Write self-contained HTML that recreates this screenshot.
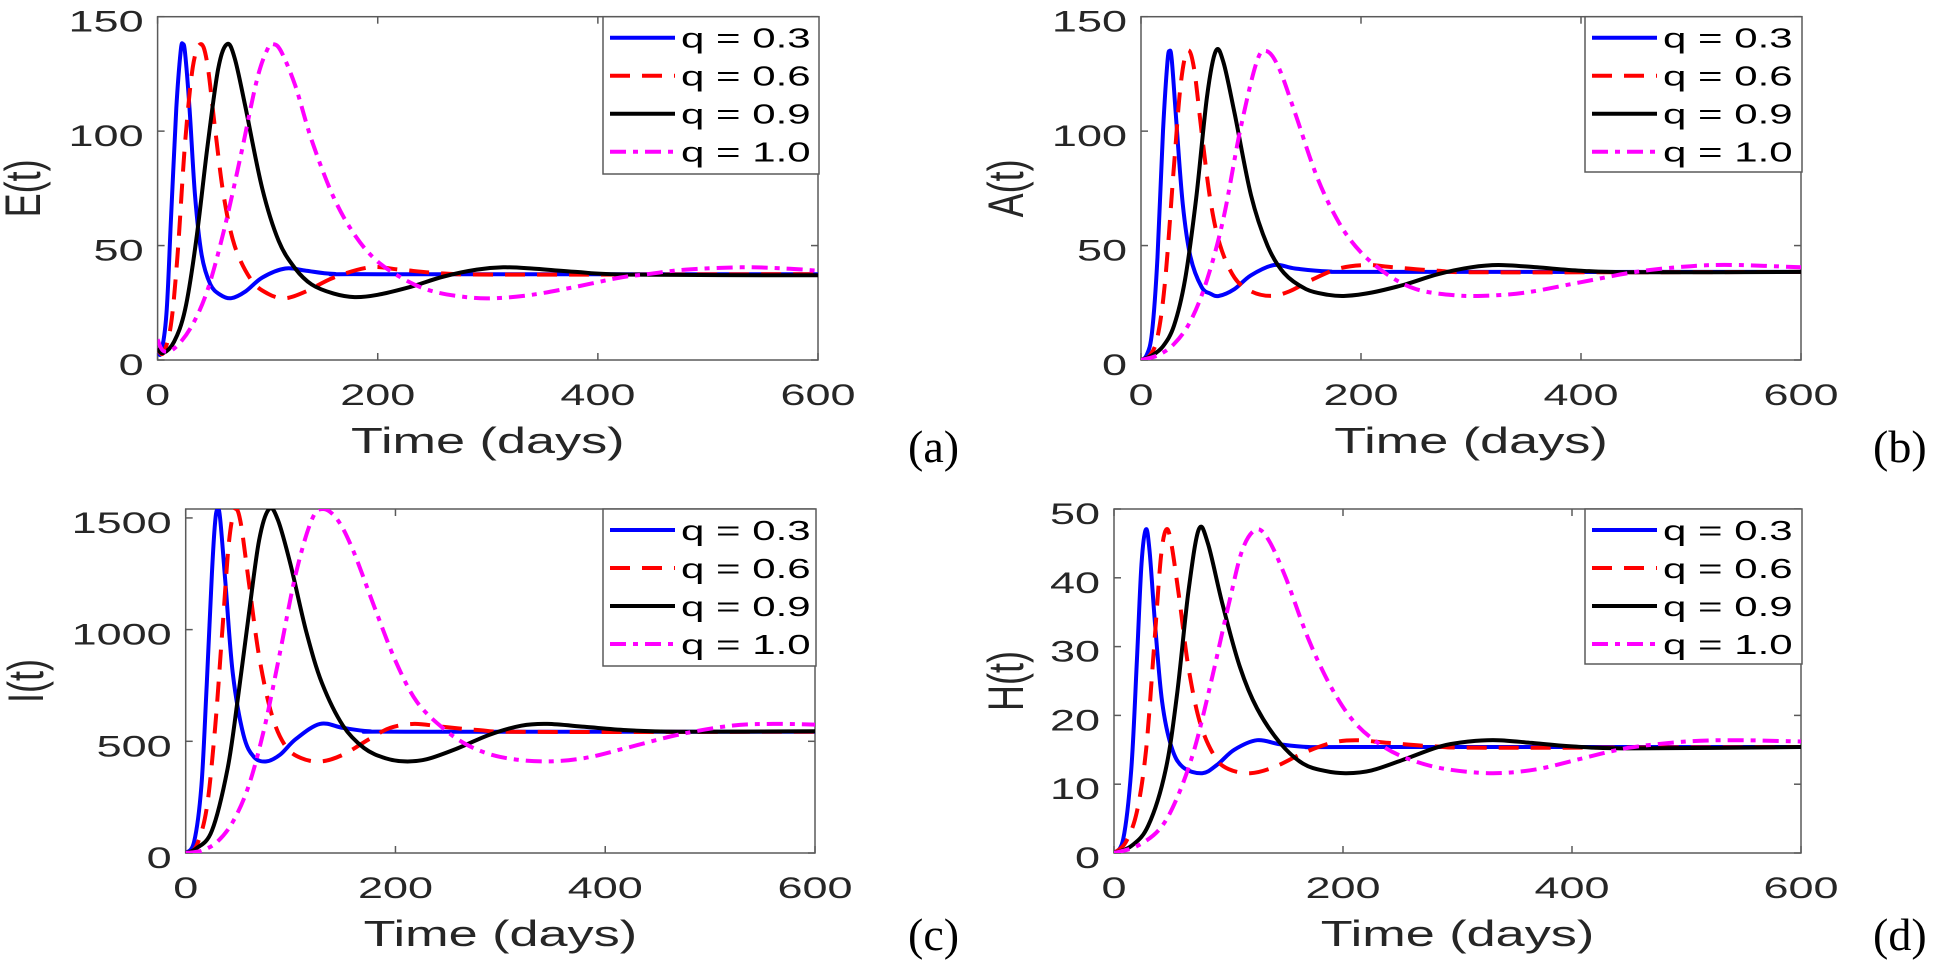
<!DOCTYPE html>
<html><head><meta charset="utf-8"><style>
html,body{margin:0;padding:0;background:#fff;}
svg{display:block;}
.tk{font-family:"Liberation Sans",sans-serif;font-size:30px;fill:#262626;}
.lg{font-family:"Liberation Sans",sans-serif;font-size:28px;fill:#000;}
.xl{font-family:"Liberation Sans",sans-serif;font-size:36px;fill:#262626;}
.pl{font-family:"Liberation Serif",serif;font-size:46px;fill:#000;}
</style></head><body>
<svg id="fig" width="1951" height="970" viewBox="0 0 1951 970" xmlns="http://www.w3.org/2000/svg"></svg>
<script>
// ---- data ----
const xTicks = [0, 200, 400, 600];
const seriesLabels = ["q = 0.3", "q = 0.6", "q = 0.9", "q = 1.0"];
// Panel (a) E(t)
const aT0 = [0,3,8,12,17,21,23,25,29,34,40,48,57,67,80,95,116,135,160,200,600];
const aV0 = [5,3,20,60,110,135,138,134,110,72,46,33,28.5,27,30,36,40,39,37.6,37.5,37.5];
const aT1 = [0,5,12,18,25,32,39,45,52,60,70,85,100,116,135,160,193,220,260,320,600];
const aV1 = [5,3,15,45,95,128,138,130,102,72,50,35,29,27,30,36,40.5,39.5,37.8,37.3,37.5];
const aT2 = [0,5,15,25,35,45,55,63,70,80,95,110,125,140,160,179,200,230,260,290,314,340,380,430,600];
const aV2 = [5,3,8,22,52,92,127,138,132,110,75,52,40,33,29,27.5,28.5,32,36.5,39.5,40.5,40,38.5,37.3,37];
const aT3 = [0,5,15,30,45,60,75,90,100,105,112,125,140,160,180,200,225,250,280,306,340,380,420,445,480,530,570,600];
const aV3 = [9,4,5,14,30,56,88,122,136,138,135,120,96,71,54,43,35,30,27.5,27,28.5,32,36,37.5,39.5,40.5,40,39];
// Panel (b) A(t)
const bT0 = [0,5,10,15,20,24,26,28,32,38,45,55,63,71,85,100,121,140,170,220,600];
const bV0 = [0,2,12,45,100,130,135,131,105,68,45,32,29,28,31,37,41.5,40,38.7,38.5,38.5];
const bT1 = [0,8,15,22,30,36,42,48,55,63,72,85,100,118,135,155,180,205,230,270,320,600];
const bV1 = [0,2,10,35,85,120,135,128,100,70,50,36,30,28,30,35,40,41.5,40.5,39,38.3,38.5];
const bT2 = [0,10,20,30,40,50,60,68,75,85,100,115,130,150,170,186,210,240,270,300,325,360,400,450,600];
const bV2 = [0,2,6,15,35,70,115,135,130,108,72,50,38,31,28.5,28,29.5,33,37.5,40.5,41.5,40.5,39,38.3,38.5];
const bT3 = [0,15,30,45,60,75,90,105,114,125,140,160,180,200,225,250,280,310,350,400,450,500,540,600];
const bV3 = [0,2,7,17,35,62,100,130,135,128,108,80,60,47,37,31,28.5,28,29.5,34,38.5,41,41.5,40.5];
// Panel (c) I(t)
const cT0 = [0,8,15,20,25,28,30.5,33,38,45,55,65,77,90,105,128,150,175,210,600];
const cV0 = [0,50,300,750,1250,1480,1540,1490,1200,800,530,430,410,440,510,578,560,545,543,543];
const cT1 = [0,10,20,28,35,41,46.5,52,60,70,82,95,110,129,150,175,195,218,245,280,330,600];
const cV1 = [0,30,200,560,1000,1380,1530,1490,1220,880,620,480,425,410,440,510,560,578,565,550,542,543];
const cT2 = [0,10,25,40,50,60,70,79.5,88,100,115,130,150,170,190,209,230,260,290,320,345,380,420,470,600];
const cV2 = [0,20,100,380,700,1060,1400,1540,1490,1290,990,760,570,470,425,410,420,470,530,570,578,565,550,543,545];
const cT3 = [0,15,30,45,60,75,90,105,120,131,145,160,180,200,220,245,270,300,340,380,420,470,520,560,600];
const cV3 = [0,10,50,140,300,560,900,1250,1490,1540,1490,1350,1100,860,680,560,480,430,410,425,470,530,570,578,575];
// Panel (d) H(t)
const dT0 = [0,8,15,20,24,27.8,31,36,42,50,60,77,90,105,125,145,170,210,600];
const dV0 = [0,2,12,28,42,47,44,33,22,15.5,12.5,11.6,12.8,15,16.4,15.8,15.4,15.4,15.4];
const dT1 = [0,10,20,28,35,41,45.6,50,57,65,75,88,100,119,140,165,190,211,240,280,330,600];
const dV1 = [0,1.5,6,15,30,43,47,45,37,27,19,14,12.2,11.6,12.5,14.5,16,16.4,16,15.5,15.3,15.4];
const dT2 = [0,15,30,45,55,65,74,82,95,110,125,145,165,185,203,225,255,285,310,335,365,400,450,600];
const dV2 = [0,1,4,12,23,38,47,45,36,27,21,16,13,11.9,11.6,12,13.7,15.5,16.2,16.4,16,15.5,15.2,15.4];
const dT3 = [0,20,40,55,70,85,100,112,124,135,150,170,190,210,235,260,290,331,370,410,450,500,543,600];
const dV3 = [0,1,3.5,8,15,25,36,44,47,45.5,40,31,24,19,15.5,13.5,12.2,11.6,12.2,13.8,15.3,16.2,16.4,16.2];
const aYTicks = [0,50,100,150];
const bYTicks = [0,50,100,150];
const cYTicks = [0,500,1000,1500];
const dYTicks = [0,10,20,30,40,50];

const NS = "http://www.w3.org/2000/svg";
const svg = document.getElementById('fig');
function mk(tag, attrs, parent){ const e=document.createElementNS(NS,tag); for(const k in attrs) e.setAttribute(k,attrs[k]); (parent||svg).appendChild(e); return e; }

const colors = ["#0000ff","#ff0000","#000000","#ff00ff"];
const dashes = ["none","20 12","none","16 7 5 7"];

const panels = [
  {id:'a', L:157.6, R:818, T:16.7, B:360, ymax:150, yt:aYTicks, lab:'E(t)', labX:27, tag:'(a)', tagX:908, tagY:462,
   series:[[aT0,aV0],[aT1,aV1],[aT2,aV2],[aT3,aV3]], leg:{x:603,y:16.7,b:174}},
  {id:'b', L:1141, R:1801, T:16.7, B:360, ymax:150, yt:bYTicks, lab:'A(t)', labX:1010, tag:'(b)', tagX:1873, tagY:462,
   series:[[bT0,bV0],[bT1,bV1],[bT2,bV2],[bT3,bV3]], leg:{x:1585,y:16.7,b:172}},
  {id:'c', L:185.7, R:815, T:509, B:853, ymax:1540, yt:cYTicks, lab:'I(t)', labX:30, tag:'(c)', tagX:908, tagY:950,
   series:[[cT0,cV0],[cT1,cV1],[cT2,cV2],[cT3,cV3]], leg:{x:603,y:509,b:666}},
  {id:'d', L:1114, R:1801, T:509, B:853, ymax:50, yt:dYTicks, lab:'H(t)', labX:1010, tag:'(d)', tagX:1873, tagY:950,
   series:[[dT0,dV0],[dT1,dV1],[dT2,dV2],[dT3,dV3]], leg:{x:1585,y:509,b:664}}
];

function pathFrom(pts){
  let d = `M${pts[0][0].toFixed(1)},${pts[0][1].toFixed(1)}`;
  for(let i=0;i<pts.length-1;i++){
    const p0=pts[Math.max(0,i-1)], p1=pts[i], p2=pts[i+1], p3=pts[Math.min(pts.length-1,i+2)];
    const c1=[p1[0]+(p2[0]-p0[0])/6, p1[1]+(p2[1]-p0[1])/6];
    const c2=[p2[0]-(p3[0]-p1[0])/6, p2[1]-(p3[1]-p1[1])/6];
    d += ` C${c1[0].toFixed(1)},${c1[1].toFixed(1)} ${c2[0].toFixed(1)},${c2[1].toFixed(1)} ${p2[0].toFixed(1)},${p2[1].toFixed(1)}`;
  }
  return d;
}

panels.forEach(p=>{
  const g = mk('g',{});
  
  
  const xs = t => p.L + (t/600)*(p.R-p.L);
  const ys = v => p.B - (v/p.ymax)*(p.B-p.T);
  const cp = mk('clipPath',{id:'clip'+p.id},g);
  mk('rect',{x:p.L,y:p.T,width:p.R-p.L,height:p.B-p.T},cp);
  // axes box
  const box = mk('rect',{x:p.L,y:p.T,width:p.R-p.L,height:p.B-p.T,fill:'none',stroke:'#5a5a5a','stroke-width':1.5},g);
  
  
  // x ticks
  xTicks.forEach(t=>{
    const x=xs(t);
    mk('line',{x1:x,y1:p.B,x2:x,y2:p.B-7,stroke:'#5a5a5a','stroke-width':1.5},g);
    mk('line',{x1:x,y1:p.T,x2:x,y2:p.T+7,stroke:'#5a5a5a','stroke-width':1.5},g);
    const tx = mk('text',{class:'tk','text-anchor':'middle',transform:`translate(${x},${p.B+45}) scale(1.5,1)`},g);
    
    
    tx.textContent = t;
  });
  p.yt.forEach(v=>{
    const y=ys(v);
    mk('line',{x1:p.L,y1:y,x2:p.L+7,y2:y,stroke:'#5a5a5a','stroke-width':1.5},g);
    mk('line',{x1:p.R,y1:y,x2:p.R-7,y2:y,stroke:'#5a5a5a','stroke-width':1.5},g);
    const tx = mk('text',{class:'tk','text-anchor':'end',transform:`translate(${p.L-14},${y+15}) scale(1.5,1)`},g);
    
    
    tx.textContent = v;
  });
  // labels
  const xl = mk('text',{class:'xl','text-anchor':'middle',transform:`translate(${(p.L+p.R)/2},${p.B+93}) scale(1.45,1)`},g);
  
  
  xl.textContent='Time (days)';
  const yl = mk('text',{class:'xl','text-anchor':'middle',transform:`translate(${p.labX+13},${(p.T+p.B)/2}) scale(1.4,1) rotate(-90)`},g);
  
  
  yl.textContent=p.lab;
  const tg = mk('text',{class:'pl',x:p.tagX,y:p.tagY},g);
  
  
  tg.textContent=p.tag;
  // series
  const sg = mk('g',{'clip-path':`url(#clip${p.id})`},g);
  p.series.forEach((s,i)=>{
    const pts = s[0].map((t,j)=>[xs(t), ys(s[1][j])]);
    const path = mk('path',{d:pathFrom(pts),fill:'none',stroke:colors[i],'stroke-width':4,'stroke-dasharray':dashes[i],'stroke-linejoin':'round'},sg);
    
    
  });
  // legend
  const lgx=p.leg.x, lgw=p.R-p.leg.x+1, lgh=p.leg.b-p.leg.y;
  const lg = mk('g',{},g);
  
  
  mk('rect',{x:lgx,y:p.leg.y,width:lgw,height:lgh,fill:'#fff',stroke:'#5a5a5a','stroke-width':1.5},lg);
  seriesLabels.forEach((name,i)=>{
    const ry = p.leg.y + 21 + i*38;
    const e = mk('g',{},lg);
    
    
    mk('line',{x1:lgx+7,y1:ry,x2:lgx+72,y2:ry,stroke:colors[i],'stroke-width':4,'stroke-dasharray':dashes[i]},e);
    const t = mk('text',{class:'lg',transform:`translate(${lgx+78},${ry+10}) scale(1.5,1)`},e);
    t.textContent=name;
  });
});
</script>
</body></html>
